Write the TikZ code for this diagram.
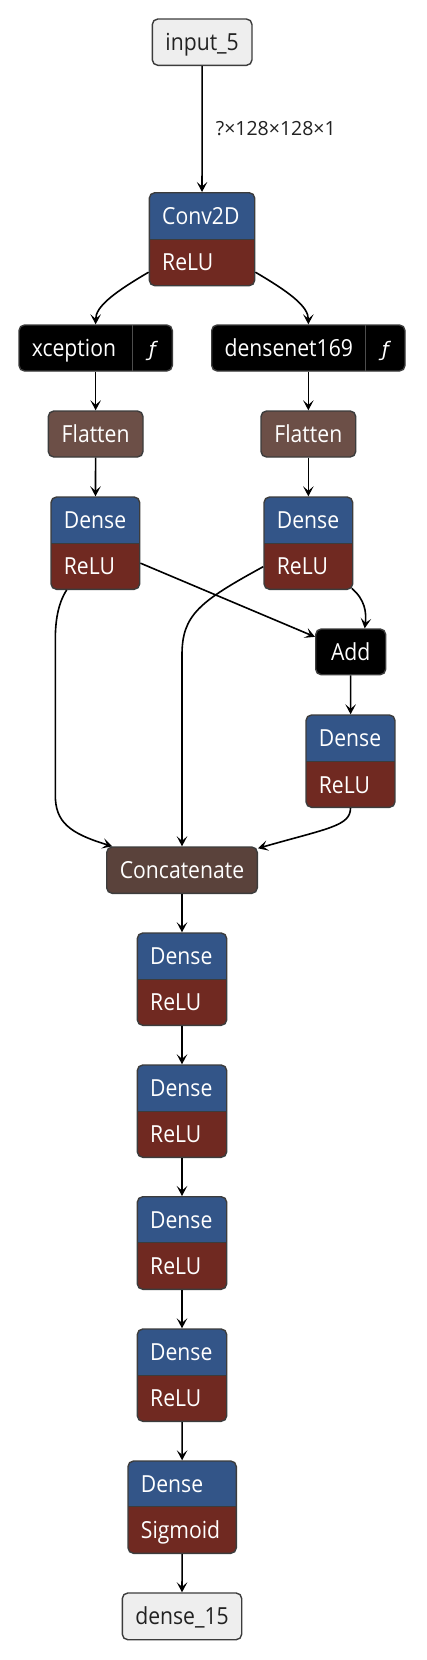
\documentclass[tikz,border=0pt]{standalone}
\usepackage{fontspec}
\setmainfont{Open Sans}[FakeStretch=0.9]
\newfontfamily\lblfont{Open Sans}
\newfontfamily\fnfont{DejaVu Sans}
\usetikzlibrary{arrows.meta,fit}
\definecolor{dblue}{HTML}{335588}
\definecolor{dred}{HTML}{702921}
\definecolor{flatcol}{HTML}{6C4F47}
\definecolor{catcol}{HTML}{5A423B}
\definecolor{iocol}{HTML}{EEEEEE}
\definecolor{bordercol}{HTML}{3C3C3C}
\definecolor{divcol}{HTML}{4D4D4D}
\definecolor{textdark}{HTML}{222222}
\tikzset{
  frame/.style={draw=bordercol, line width=1.4pt, rounded corners=5.5pt, inner sep=0pt},
  wtxt/.style={text=white, font=\fontsize{23.5}{27}\selectfont, inner sep=0pt, anchor=base west},
  ctxt/.style={font=\fontsize{23.5}{27}\selectfont, inner sep=0pt, anchor=base},
  ftxt/.style={text=white, font=\fnfont\itshape\fontsize{20}{24}\selectfont, inner sep=0pt, anchor=base},
  lbl/.style={text=textdark, font=\lblfont\fontsize{19.5}{23}\selectfont, inner sep=0pt},
  edge/.style={draw=black, line width=1.6pt, -{Stealth[length=10pt,width=10.5pt,inset=4.5pt]}},
}
% name, x1, x2, y1, ydiv, y2, top text, bottom text
\newcommand\twolayer[8]{%
  \begin{scope}
    \clip[rounded corners=5.5pt] (#2,#4) rectangle (#3,#6);
    \fill[dblue] (#2,#4) rectangle (#3,#5);
    \fill[dred] (#2,#5) rectangle (#3,#6);
  \end{scope}
  \draw[bordercol, line width=1pt] (#2,#5) -- (#3,#5);
  \node[frame, fit={(#2,#4) (#3,#6)}] (#1) {};
  \node[wtxt] (#1-t) at ({#2+12.7},{#4+31.7}) {#7};
  \node[wtxt] (#1-b) at ({#2+12.7},{#5+31.7}) {#8};
}
% name, x1, x2, y1, y2, fill, text, text colour
\newcommand\onelayer[8]{%
  \node[frame, fill=#6, fit={(#2,#4) (#3,#5)}] (#1) {};
  \node[ctxt, text=#8] (#1-t) at ({(#2+#3)/2},{#4+31.7}) {#7};
}
% name, x1, xdiv, x2, y1, y2, text
\newcommand\fnlayer[7]{%
  \node[frame, fill=black, fit={(#2,#5) (#4,#6)}] (#1) {};
  \draw[divcol, line width=1pt] (#3,#5) -- (#3,#6);
  \node[wtxt] (#1-t) at ({#2+12.7},{#5+31.7}) {#7};
  \node[ftxt] (#1-f) at ({(#3+#4)/2},{#5+31.7}) {ƒ};
}
\begin{document}
\begin{tikzpicture}[x=1pt,y=-1pt]
\path[use as bounding box, fill=white] (0,0) rectangle (426,1660);

\onelayer{inp}{152.3}{252}{19}{65.3}{iocol}{input\_5}{textdark}
\twolayer{conv}{149.3}{254.7}{192.7}{239}{285.7}{Conv2D}{ReLU}
\fnlayer{xcep}{19}{132.3}{172.3}{325}{371}{xception}
\fnlayer{dnet}{211.7}{365.7}{405}{325}{371}{densenet169}
\onelayer{flatL}{48.3}{143}{411}{457}{flatcol}{Flatten}{white}
\onelayer{flatR}{261}{355.7}{411}{457}{flatcol}{Flatten}{white}
\twolayer{denseL}{51}{139.7}{497}{543}{589.3}{Dense}{ReLU}
\twolayer{denseR}{264}{352.7}{497}{543}{589.3}{Dense}{ReLU}
\onelayer{add}{315.7}{385.7}{629}{674.7}{black}{Add}{white}
\twolayer{denseA}{306}{395}{715}{761.7}{807.3}{Dense}{ReLU}
\onelayer{concat}{106.7}{257.3}{847}{893.3}{catcol}{Concatenate}{white}
\twolayer{d1}{137.3}{226.7}{933}{979}{1025.3}{Dense}{ReLU}
\twolayer{d2}{137.3}{226.7}{1065}{1111}{1157.3}{Dense}{ReLU}
\twolayer{d3}{137.3}{226.7}{1196.7}{1242.7}{1289.3}{Dense}{ReLU}
\twolayer{d4}{137.3}{226.7}{1329}{1375}{1421.3}{Dense}{ReLU}
\twolayer{dS}{128}{236.3}{1461}{1506.7}{1553.3}{Dense}{Sigmoid}
\onelayer{out}{122.3}{241.7}{1593}{1639.7}{iocol}{dense\_15}{textdark}

\draw[edge] (inp) -- node[lbl, anchor=west, xshift=13pt] (shape) {?×128×128×1} (conv);
\draw[edge] ([yshift=-33pt]conv.west) .. controls +(-34,20) and +(0,-18) .. (xcep.north);
\draw[edge] ([yshift=-33pt]conv.east) .. controls +(34,20) and +(0,-18) .. (dnet.north);
\draw[edge] (xcep) -- (flatL);
\draw[edge] (dnet) -- (flatR);
\draw[edge] (flatL) -- (denseL);
\draw[edge] (flatR) -- (denseR);
\draw[edge] ([yshift=-20pt]denseL.east) -- ([yshift=15pt]add.west);
\draw[edge] ([xshift=-1.6pt,yshift=1.6pt]denseR.south east) .. controls +(13,11) and +(2,-16) .. ([xshift=14pt]add.north);
\coordinate (wR) at (182,655);
\draw[edge] ([yshift=-23.5pt]denseR.west) .. controls +(-64,35) and +(0,-40) .. (wR) -- (concat.north);
\coordinate (wL1) at (55.3,640);
\coordinate (wL2) at (55.3,795);
\draw[edge] ([xshift=-28.7pt]denseL.south) .. controls +(-9,14) and +(0,-18) .. (wL1) -- (wL2) .. controls +(0,27) and +(-43,-13) .. ([xshift=6.3pt]concat.north west);
\draw[edge] (add) -- (denseA);
\draw[edge] (denseA.south) .. controls +(0,18) and +(70,-20) .. ([yshift=-2pt]concat.north east);
\draw[edge] (concat) -- (d1);
\draw[edge] (d1) -- (d2);
\draw[edge] (d2) -- (d3);
\draw[edge] (d3) -- (d4);
\draw[edge] (d4) -- (dS);
\draw[edge] (dS) -- (out);
\end{tikzpicture}
\end{document}
